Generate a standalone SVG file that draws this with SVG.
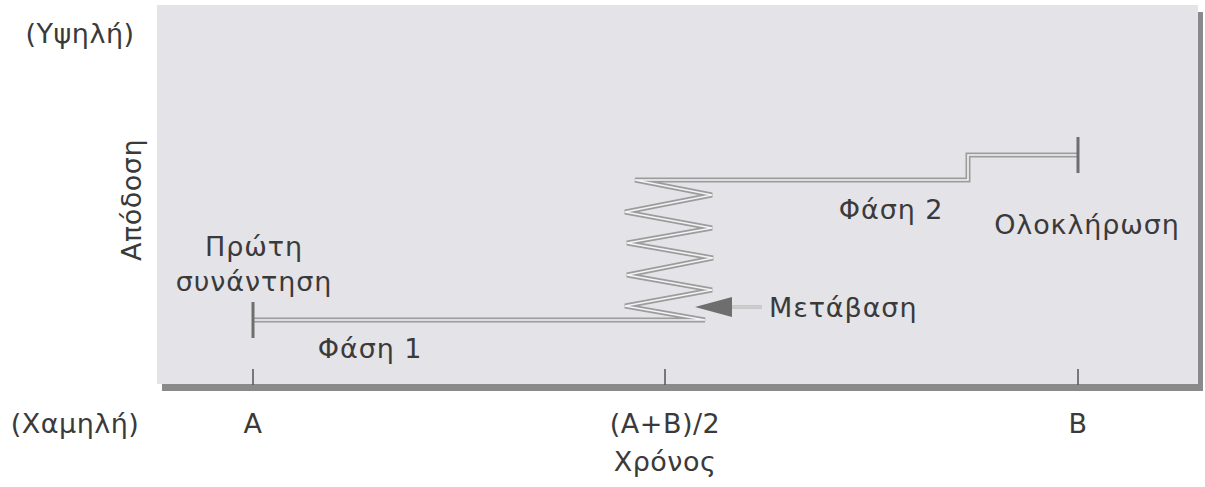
<svg xmlns="http://www.w3.org/2000/svg" width="1205" height="487" viewBox="0 0 1205 487">
<style>
text{font-family:"DejaVu Sans","Noto Sans",sans-serif;fill:#3a3a3a;}
.ax{font-size:27px;letter-spacing:0.5px;}
.lb{font-size:27px;letter-spacing:0.9px;}
.outer{fill:none;stroke:#9c9c9c;stroke-width:5;stroke-linejoin:miter;}
.inner{fill:none;stroke:#f4f4f6;stroke-width:1.6;stroke-linejoin:miter;}
.mark{stroke:#6e6e6e;stroke-width:3;}
.tick{stroke:#555;stroke-width:1.5;}
</style>
<rect width="1205" height="487" fill="#ffffff"/>
<g id="panel">
<rect x="162" y="12" width="1041" height="379" fill="#8a8a8a"/>
<rect x="157" y="5" width="1041" height="379" fill="#e4e3e8"/>
</g>
<g id="ticks">
<line class="tick" x1="253" y1="369" x2="253" y2="385"/>
<line class="tick" x1="665" y1="369" x2="665" y2="385"/>
<line class="tick" x1="1078" y1="369" x2="1078" y2="385"/>
</g>
<g id="connectors">
<path id="curve-out" class="outer" d="M1078,155 L968,155 L968,180 L635,180 L712,195 L625,212 L712,228 L627,243 L713,258 L627,275 L712,290 L625,306 L705,320 L253,320"/>
<path id="curve-in" class="inner" d="M1078,155 L968,155 L968,180 L635,180 L712,195 L625,212 L712,228 L627,243 L713,258 L627,275 L712,290 L625,306 L705,320 L253,320"/>
<line x1="732" y1="307" x2="762" y2="307" stroke="#aaaaaa" stroke-width="3"/>
<line x1="732" y1="307" x2="762" y2="307" stroke="#eeeeee" stroke-width="1"/>
<polygon points="695,307 732,297 732,317" fill="#6e6e6e"/>
</g>
<g id="start">
<line class="mark" x1="253" y1="302" x2="253" y2="338"/>
<text class="lb" x="254" y="256" text-anchor="middle">Πρώτη</text>
<text class="lb" x="254" y="291" text-anchor="middle">συνάντηση</text>
</g>
<g id="end">
<line class="mark" x1="1078" y1="137" x2="1078" y2="173"/>
<text class="lb" x="1087" y="234" text-anchor="middle">Ολοκλήρωση</text>
</g>
<g id="phase1"><text class="lb" x="370" y="358" text-anchor="middle">Φάση 1</text></g>
<g id="phase2"><text class="lb" x="891" y="219" text-anchor="middle">Φάση 2</text></g>
<g id="transition"><text class="lb" x="769" y="317">Μετάβαση</text></g>
<g id="axes">
<text class="ax" x="80" y="43" text-anchor="middle">(Υψηλή)</text>
<text class="ax" x="75" y="433" text-anchor="middle">(Χαμηλή)</text>
<text class="ax" transform="translate(141,200) rotate(-90)" text-anchor="middle">Απόδοση</text>
<text class="ax" x="253" y="433" text-anchor="middle">A</text>
<text class="ax" x="665" y="433" text-anchor="middle">(A+B)/2</text>
<text class="ax" x="1078" y="433" text-anchor="middle">B</text>
<text class="ax" x="665" y="471" text-anchor="middle">Χρόνος</text>
</g>
</svg>
